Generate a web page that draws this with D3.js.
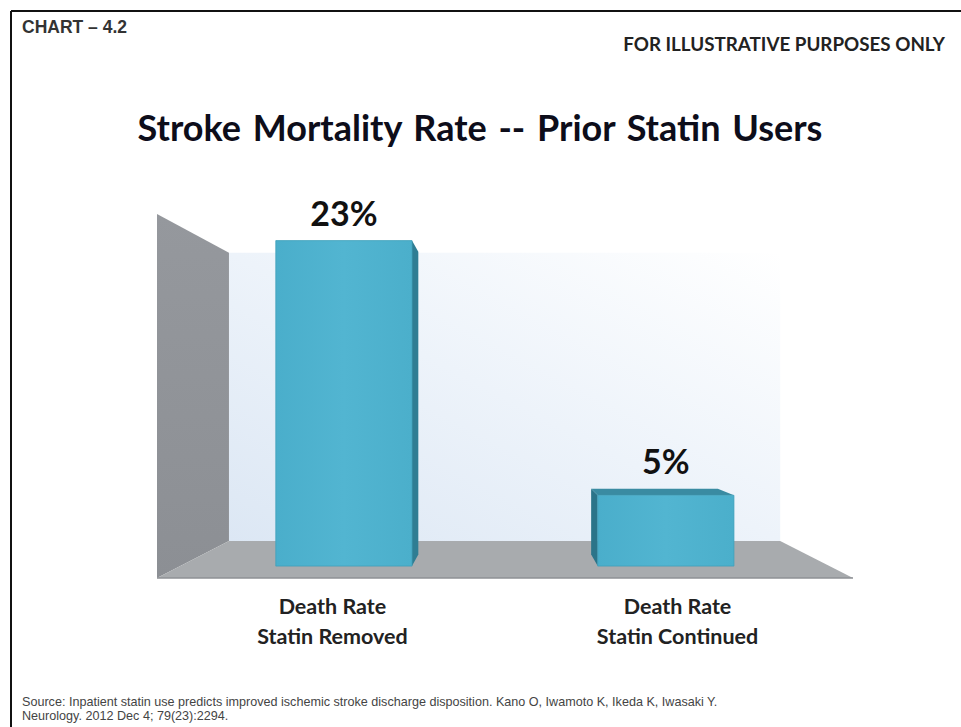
<!DOCTYPE html>
<html>
<head>
<meta charset="utf-8">
<script src="https://cdn.jsdelivr.net/npm/d3@7"></script>
<style>
  body { margin: 0; background: #fff; }
  svg { display: block; }
</style>
</head>
<body>
<div id="chart"></div>
<script>
// chart data
var categories = ["Statin Removed", "Statin Continued"];
var labelLines = [["Death Rate", "Statin Removed"], ["Death Rate", "Statin Continued"]];
var deathRates = [23, 5];
var valueLabels = ["23%", "5%"];
var axisMax = 24;

var W = 961, H = 727;
var svg = d3.select("#chart").append("svg").attr("width", W).attr("height", H);
var defs = svg.append("defs");

// frame (only top and left show in the picture)
svg.append("line").attr("x1", 11).attr("y1", 11).attr("x2", W).attr("y2", 11)
  .attr("stroke", "#111").attr("stroke-width", 2);
svg.append("line").attr("x1", 11).attr("y1", 11).attr("x2", 11).attr("y2", H)
  .attr("stroke", "#111").attr("stroke-width", 2);

// simple perspective: front plane + vanishing point
var vp = { x: 503, y: 400 };
var floorY = 578;
var sBack = 0.792;            // depth scale of back wall
var sBarFront = 0.933, sBarBack = 0.868;

var xScale = d3.scaleBand().domain(categories).range([157, 853])
  .paddingInner(0.577).paddingOuter(0.297);
var hScale = d3.scaleLinear().domain([0, axisMax]).range([0, 364]);

function proj(X, h, s) {
  return [vp.x + (X - vp.x) * s, vp.y + (floorY - h - vp.y) * s];
}
function poly(pts) { return "M" + pts.map(function(p){ return p.join(","); }).join("L") + "Z"; }

var x0 = xScale.range()[0], x1 = xScale.range()[1];
var wallH = hScale(axisMax);

// gradients
var gBack = defs.append("linearGradient").attr("id", "gBack")
  .attr("x1", "0").attr("y1", "1").attr("x2", "1").attr("y2", "0");
gBack.append("stop").attr("offset", "0").attr("stop-color", "#dce7f4");
gBack.append("stop").attr("offset", "0.5").attr("stop-color", "#edf3fa");
gBack.append("stop").attr("offset", "1").attr("stop-color", "#ffffff");

var gWall = defs.append("linearGradient").attr("id", "gWall")
  .attr("x1", "0").attr("y1", "0").attr("x2", "0").attr("y2", "1");
gWall.append("stop").attr("offset", "0").attr("stop-color", "#95989d");
gWall.append("stop").attr("offset", "1").attr("stop-color", "#8c8f94");

var gFront = defs.append("linearGradient").attr("id", "gFront")
  .attr("x1", "0").attr("y1", "0").attr("x2", "1").attr("y2", "0");
gFront.append("stop").attr("offset", "0").attr("stop-color", "#4aaecb");
gFront.append("stop").attr("offset", "0.5").attr("stop-color", "#52b5d1");
gFront.append("stop").attr("offset", "1").attr("stop-color", "#4bafcb");

// back wall
svg.append("path").attr("fill", "url(#gBack)")
  .attr("d", poly([proj(x0, wallH, sBack), proj(x1, wallH, sBack), proj(x1, 0, sBack), proj(x0, 0, sBack)]));

// left side wall
svg.append("path").attr("fill", "url(#gWall)")
  .attr("d", poly([proj(x0, wallH, 1), proj(x0, wallH, sBack), proj(x0, 0, sBack), proj(x0, 0, 1)]));

// floor
svg.append("path").attr("fill", "#a8abae")
  .attr("d", poly([proj(x0, 0, 1), proj(x0, 0, sBack), proj(x1, 0, sBack), proj(x1, 0, 1)]));
svg.append("line").attr("stroke", "#8e9194").attr("stroke-width", 1.5)
  .attr("x1", proj(x0, 0, 1)[0]).attr("y1", floorY).attr("x2", proj(x1, 0, 1)[0]).attr("y2", floorY);

// bars
var bars = svg.selectAll("g.bar").data(deathRates).enter().append("g").attr("class", "bar");
bars.each(function(d, i) {
  var g = d3.select(this);
  var L = xScale(categories[i]), R = L + xScale.bandwidth(), h = hScale(d);
  var fl = proj(L, h, sBarFront), fr = proj(R, h, sBarFront);
  var bl = proj(L, h, sBarBack), br = proj(R, h, sBarBack);
  var flb = proj(L, 0, sBarFront), frb = proj(R, 0, sBarFront);
  var blb = proj(L, 0, sBarBack), brb = proj(R, 0, sBarBack);
  // side face
  if (fr[0] < vp.x) {
    g.append("path").attr("fill", "#2f7d93").attr("d", poly([fr, br, brb, frb]));
  } else if (fl[0] > vp.x) {
    g.append("path").attr("fill", "#2b7489").attr("d", poly([fl, bl, blb, flb]));
  }
  // top face
  if (fl[1] > vp.y) {
    g.append("path").attr("fill", "#3a8ba2").attr("d", poly([fl, bl, br, fr]));
  }
  // front face
  g.append("path").attr("fill", "url(#gFront)").attr("stroke", "#3f9fba").attr("stroke-width", 0.8)
    .attr("d", poly([fl, fr, frb, flb]));
  // value label
  g.append("text")
    .attr("x", (fl[0] + fr[0]) / 2)
    .attr("y", Math.min(fl[1], bl[1]) - 15)
    .attr("text-anchor", "middle")
    .style("font-family", "Lato, 'Open Sans', sans-serif")
    .style("font-weight", "bold")
    .attr("font-size", "34px")
    .attr("fill", "#111")
    .text(valueLabels[i]);
});

// category labels
var catG = svg.selectAll("text.cat").data(labelLines).enter().append("text")
  .attr("class", "cat")
  .attr("text-anchor", "middle")
  .style("font-family", "Lato, 'Open Sans', sans-serif")
  .style("font-weight", "bold")
  .attr("font-size", "21.5px")
  .attr("fill", "#222");
catG.each(function(lines, i) {
  var t = d3.select(this);
  var cx = xScale(categories[i]) + xScale.bandwidth() / 2;
  lines.forEach(function(line, j) {
    t.append("tspan").attr("x", cx).attr("y", 614 + j * 30).text(line);
  });
});

// titles and notes
svg.append("text").attr("x", 22).attr("y", 33)
  .style("font-family", "'Liberation Sans', Arial, sans-serif").style("font-weight", "bold")
  .attr("font-size", "17.5px").attr("fill", "#333").text("CHART \u2013 4.2");

svg.append("text").attr("x", 945).attr("y", 51).attr("text-anchor", "end")
  .style("font-family", "Lato, 'Open Sans', sans-serif").style("font-weight", "bold")
  .attr("font-size", "18.8px").attr("fill", "#222").text("FOR ILLUSTRATIVE PURPOSES ONLY");

svg.append("text").attr("x", 480).attr("y", 141).attr("text-anchor", "middle")
  .style("font-family", "Lato, 'Open Sans', sans-serif").style("font-weight", "bold")
  .style("word-spacing", "3px")
  .attr("font-size", "36px").attr("fill", "#0d0d1a").text("Stroke Mortality Rate -- Prior Statin Users");

var src = svg.append("text").style("font-family", "'Liberation Sans', Arial, sans-serif")
  .attr("font-size", "12.6px").attr("fill", "#444");
src.append("tspan").attr("x", 22).attr("y", 706)
  .text("Source: Inpatient statin use predicts improved ischemic stroke discharge disposition. Kano O, Iwamoto K, Ikeda K, Iwasaki Y.");
src.append("tspan").attr("x", 22).attr("y", 720)
  .text("Neurology. 2012 Dec 4; 79(23):2294.");
</script>
</body>
</html>
